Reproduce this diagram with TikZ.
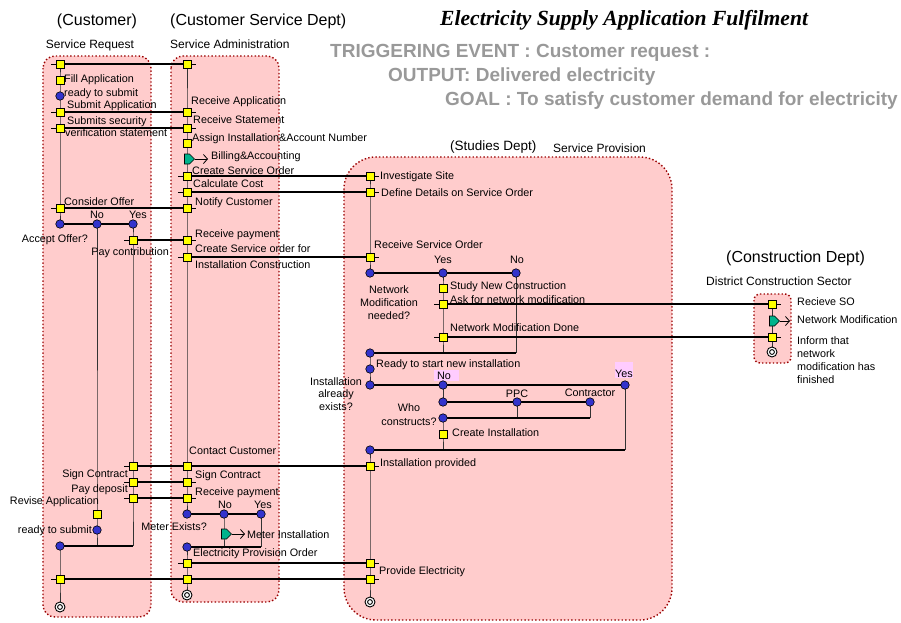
\documentclass[tikz,border=0pt]{standalone}
\usepackage{fontspec}
\setmainfont{Liberation Sans}
\newfontfamily\titlefamily{Liberation Serif}
\usetikzlibrary{shapes.symbols,arrows.meta}
\definecolor{lanepink}{HTML}{FFCCCC}
\definecolor{lanered}{HTML}{990000}
\definecolor{actyellow}{HTML}{FFFF00}
\definecolor{decblue}{HTML}{3333CC}
\definecolor{sendgreen}{HTML}{00B38C}
\definecolor{hlpink}{HTML}{FFCCFF}
\definecolor{graytxt}{HTML}{999999}
\definecolor{flowgray}{HTML}{333333}
\newcommand\lblfont{\fontsize{10.8}{13}\selectfont}
\newcommand\hdrfont{\fontsize{12}{14}\selectfont}
\newcommand\deptfont{\fontsize{16}{19}\selectfont}
\newcommand\sdeptfont{\fontsize{13.5}{16}\selectfont}
\newcommand\goalfont{\fontsize{19}{22}\selectfont\bfseries}
\newcommand\ttlfont{\titlefamily\fontsize{21.6}{25}\selectfont\bfseries\itshape}
\pgfdeclarelayer{lanes}
\pgfdeclarelayer{lines}
\pgfsetlayers{lanes,lines,main}
\tikzset{
 lane/.style={fill=lanepink, draw=lanered, line width=1.4pt, dash pattern=on 1.4pt off 2.2pt},
 act/.style={rectangle, draw=black, fill=actyellow, minimum size=8pt, inner sep=0pt, line width=0.6pt},
 dec/.style={circle, draw=black, fill=decblue, minimum size=8.5pt, inner sep=0pt, line width=0.6pt},
 endnode/.style={circle, draw=black, fill=white, minimum size=10pt, inner sep=0pt, line width=0.9pt,
   path picture={\draw[line width=0.9pt] (path picture bounding box.center) circle (2.4pt);}},
 sendnode/.style={signal, signal to=east, draw=black, fill=sendgreen, minimum width=10pt, minimum height=10pt, inner sep=0pt, line width=0.6pt},
 msg/.style={draw=black, line width=1.3pt},
 flow/.style={draw=flowgray, line width=0.9pt},
 tickline/.style={draw=black, line width=0.8pt},
 sendarrow/.style={draw=black, line width=0.8pt, -{Straight Barb[length=4pt,width=9pt]}},
 lbl/.style={font=\lblfont, inner sep=0pt, text=black},
 hdr/.style={font=\hdrfont, inner sep=0pt},
 dept/.style={font=\deptfont, inner sep=0pt},
 goal/.style={font=\goalfont, inner sep=0pt, text=graytxt},
}
\newcommand\tickon[1]{\draw[tickline] ([xshift=-4.5pt]#1.west) -- ([xshift=4.5pt]#1.east);}
\begin{document}
\begin{tikzpicture}[x=1pt,y=-1pt]
\useasboundingbox (0,0) rectangle (901,622);
% ---------- lanes ----------
\begin{pgfonlayer}{lanes}
\draw[lane, rounded corners=12pt] (43,56) rectangle (151,617);
\draw[lane, rounded corners=12pt] (171,56) rectangle (279,602);
\draw[lane, rounded corners=32pt] (344,157) rectangle (672,620);
\draw[lane, rounded corners=6pt] (754,294) rectangle (791,363);
\fill[hlpink] (434,370) rectangle (459,381);
\fill[hlpink] (615,362) rectangle (633,378);
\end{pgfonlayer}
% ---------- titles ----------
\node[dept] (h1) at (97,21) {(Customer)};
\node[hdr] (h2) at (90,45) {Service Request};
\node[dept, anchor=west] (h3) at (170,21) {(Customer Service Dept)};
\node[hdr, anchor=west] (h4) at (170,44) {Service Administration};
\node[font=\sdeptfont, inner sep=0pt, anchor=west] (h5) at (450,147) {(Studies Dept)};
\node[hdr, anchor=west] (h6) at (553,148) {Service Provision};
\node[dept, anchor=west] (h7) at (726,258) {(Construction Dept)};
\node[hdr, anchor=west] (h8) at (706,281) {District Construction Sector};
\node[font=\ttlfont, inner sep=0pt, anchor=west] (ttl) at (440,20) {Electricity Supply Application Fulfilment};
\node[goal, anchor=west] (g1) at (330,53) {TRIGGERING EVENT : Customer request :};
\node[goal, anchor=west] (g2) at (388,77) {OUTPUT: Delivered electricity};
\node[goal, anchor=west] (g3) at (445,101) {GOAL : To satisfy customer demand for electricity};
% ---------- lane 1 nodes ----------
\node[act] (a1) at (60,64) {};
\node[act] (a2) at (60,80) {};
\node[dec] (c1) at (60,96) {};
\node[act] (a3) at (60,112) {};
\node[act] (a4) at (60,128) {};
\node[act] (a5) at (60,208) {};
\node[dec] (d1) at (60,224) {};
\node[dec] (d1n) at (97,224) {};
\node[dec] (d1y) at (133,224) {};
\node[act] (a6) at (133,240) {};
\node[act] (a7) at (133,466) {};
\node[act] (a8) at (133,482) {};
\node[act] (a9) at (133,498) {};
\node[act] (a10) at (97,514) {};
\node[dec] (c2) at (97,530) {};
\node[dec] (j1) at (60,546) {};
\coordinate (j1n) at (97,546);
\coordinate (j1y) at (133,546);
\node[act] (a11) at (60,579) {};
\node[endnode] (e1) at (60,607) {};
% ---------- lane 2 nodes ----------
\node[act] (b1) at (187,64) {};
\node[act] (b2) at (187,112) {};
\node[act] (b3) at (187,128) {};
\node[act] (b4) at (187,143) {};
\node[sendnode] (p1) at (187,159) {};
\coordinate (p1e) at (208,159);
\node[act] (b5) at (187,176) {};
\node[act] (b6) at (187,192) {};
\node[act] (b7) at (187,208) {};
\node[act] (b8) at (187,240) {};
\node[act] (b9) at (187,257) {};
\node[act] (b10) at (187,466) {};
\node[act] (b11) at (187,482) {};
\node[act] (b12) at (187,498) {};
\node[dec] (m1) at (187,514) {};
\node[dec] (m1n) at (224,514) {};
\node[dec] (m1y) at (261,514) {};
\node[sendnode] (p2) at (224,534) {};
\coordinate (p2e) at (245,534);
\node[dec] (m2) at (187,547) {};
\coordinate (m2n) at (224,547);
\coordinate (m2y) at (261,547);
\node[act] (b13) at (187,563) {};
\node[act] (b14) at (187,579) {};
\node[endnode] (e2) at (187,595) {};
% ---------- lane 3 nodes ----------
\node[act] (s1) at (370,176) {};
\node[act] (s2) at (370,192) {};
\node[act] (s3) at (370,257) {};
\node[dec] (n1) at (370,273) {};
\node[dec] (n1y) at (443,273) {};
\node[dec] (n1n) at (516,273) {};
\node[act] (s4) at (443,288) {};
\node[act] (s5) at (443,304) {};
\node[act] (s6) at (443,337) {};
\node[dec] (n2) at (370,353) {};
\coordinate (n2y) at (443,353);
\coordinate (n2n) at (516,353);
\node[dec] (n3) at (370,369) {};
\node[dec] (i1) at (370,385) {};
\node[dec] (i1n) at (443,385) {};
\node[dec] (i1y) at (625,385) {};
\node[dec] (w1) at (443,402) {};
\node[dec] (w1p) at (517,402) {};
\node[dec] (w1c) at (590,402) {};
\node[dec] (w2) at (443,418) {};
\coordinate (w2p) at (517,418);
\coordinate (w2c) at (590,418);
\node[act] (s7) at (443,434) {};
\node[dec] (i2) at (370,450) {};
\coordinate (i2n) at (443,450);
\coordinate (i2y) at (625,450);
\node[act] (s8) at (370,466) {};
\node[act] (s9) at (370,563) {};
\node[act] (s10) at (370,579) {};
\node[endnode] (e3) at (370,602) {};
% ---------- lane 4 nodes ----------
\node[act] (k1) at (772,304) {};
\node[sendnode] (p3) at (772,321) {};
\coordinate (p3e) at (790,321);
\node[act] (k2) at (772,337) {};
\node[endnode] (e4) at (772,352) {};
% ---------- lines ----------
\begin{pgfonlayer}{lines}
% flows
\draw[flow] (a1.center) -- (a2.center) -- (c1.center) -- (a3.center) -- (a4.center) -- (a5.center) -- (d1.center);
\draw[flow] (d1n.center) -- (a10.center) -- (c2.center) -- (j1n);
\draw[flow] (d1y.center) -- (a6.center) -- (a7.center) -- (a8.center) -- (a9.center) -- (j1y);
\draw[flow] (j1.center) -- (a11.center) -- (e1.center);
\draw[flow] (b1.center) -- (b2.center) -- (b3.center) -- (b4.center) -- (p1.center) -- (b5.center) -- (b6.center) -- (b7.center) -- (b8.center) -- (b9.center) -- (b10.center) -- (b11.center) -- (b12.center) -- (m1.center);
\draw[flow] (m1n.center) -- (p2.center) -- (m2n);
\draw[flow] (m1y.center) -- (m2y);
\draw[flow] (m2.center) -- (b13.center) -- (b14.center) -- (e2.center);
\draw[flow] (s1.center) -- (s2.center) -- (s3.center) -- (n1.center);
\draw[flow] (n1y.center) -- (s4.center) -- (s5.center) -- (s6.center) -- (n2y);
\draw[flow] (n1n.center) -- (n2n);
\draw[flow] (n2.center) -- (n3.center) -- (i1.center);
\draw[flow] (i1n.center) -- (w1.center);
\draw[flow] (w1p.center) -- (w2p);
\draw[flow] (w1c.center) -- (w2c);
\draw[flow] (w2.center) -- (s7.center) -- (i2n);
\draw[flow] (i1y.center) -- (i2y);
\draw[flow] (i2.center) -- (s8.center) -- (s9.center) -- (s10.center) -- (e3.center);
\draw[flow] (k1.center) -- (p3.center) -- (k2.center) -- (e4.center);
% branches and joins
\draw[msg] (d1.center) -- (d1n.center) -- (d1y.center);
\draw[msg] (j1.center) -- (j1y);
\draw[msg] (m1.center) -- (m1n.center) -- (m1y.center);
\draw[msg] (m2.center) -- (m2y);
\draw[msg] (n1.center) -- (n1y.center) -- (n1n.center);
\draw[msg] (n2.center) -- (n2n);
\draw[msg] (i1.center) -- (i1n.center) -- (i1y.center);
\draw[msg] (w1.center) -- (w1p.center) -- (w1c.center);
\draw[msg] (w2.center) -- (w2c);
\draw[msg] (i2.center) -- (i2y);
% messages
\draw[msg] (a1.center) -- (b1.center);
\draw[msg] (a3.center) -- (b2.center);
\draw[msg] (a4.center) -- (b3.center);
\draw[msg] (b5.center) -- (s1.center);
\draw[msg] (b6.center) -- (s2.center);
\draw[msg] (a5.center) -- (b7.center);
\draw[msg] (a6.center) -- (b8.center);
\draw[msg] (b9.center) -- (s3.center);
\draw[msg] (s5.center) -- (k1.center);
\draw[msg] (s6.center) -- (k2.center);
\draw[msg] (a7.center) -- (b10.center) -- (s8.center);
\draw[msg] (a8.center) -- (b11.center);
\draw[msg] (a9.center) -- (b12.center);
\draw[msg] (b13.center) -- (s9.center);
\draw[msg] (a11.center) -- (b14.center) -- (s10.center);
% ticks
\tickon{a1}\tickon{a3}\tickon{a4}\tickon{a5}\tickon{a6}\tickon{a7}\tickon{a8}\tickon{a9}\tickon{a11}
\tickon{b1}\tickon{b2}\tickon{b3}\tickon{b5}\tickon{b6}\tickon{b7}\tickon{b8}\tickon{b9}
\tickon{b10}\tickon{b11}\tickon{b12}\tickon{b13}\tickon{b14}
\tickon{s1}\tickon{s2}\tickon{s3}\tickon{s5}\tickon{s6}\tickon{s8}\tickon{s9}\tickon{s10}
\tickon{k1}\tickon{k2}
\end{pgfonlayer}
% send arrows
\draw[sendarrow] (p1.east) -- (p1e);
\draw[sendarrow] (p2.east) -- (p2e);
\draw[sendarrow] (p3.east) -- (p3e);
% ---------- lane 1 labels ----------
\node[lbl, anchor=west] (l1) at (64,80) {Fill Application};
\node[lbl, anchor=west] (l2) at (64,94) {ready to submit};
\node[lbl, anchor=west] (l3) at (67,106) {Submit Application};
\node[lbl, anchor=west] (l4) at (67,122) {Submits security};
\node[lbl, anchor=west] (l5) at (65,133) {verification statement};
\node[lbl, anchor=west] (l6) at (64,202) {Consider Offer};
\node[lbl] (l7) at (97,215) {No};
\node[lbl] (l8) at (138,215) {Yes};
\node[lbl, anchor=east] (l9) at (88,240) {Accept Offer?};
\node[lbl, anchor=east] (l10) at (169,253) {Pay contribution};
\node[lbl, anchor=east] (l11) at (128,475) {Sign Contract};
\node[lbl, anchor=east] (l12) at (128,490) {Pay deposit};
\node[lbl, anchor=east] (l13) at (99,502) {Revise Application};
\node[lbl, anchor=east] (l14) at (92,531) {ready to submit};
% ---------- lane 2 labels ----------
\node[lbl, anchor=west] (m01) at (191,102) {Receive Application};
\node[lbl, anchor=west] (m02) at (193,120) {Receive Statement};
\node[lbl, anchor=west] (m03) at (192,139) {Assign Installation\&Account Number};
\node[lbl, anchor=west] (m04) at (211,157) {Billing\&Accounting};
\node[lbl, anchor=west] (m05) at (192,171) {Create Service Order};
\node[lbl, anchor=west] (m06) at (193,184) {Calculate Cost};
\node[lbl, anchor=west] (m07) at (195,203) {Notify Customer};
\node[lbl, anchor=west] (m08) at (195,235) {Receive payment};
\node[lbl, anchor=west] (m09) at (195,249) {Create Service order for};
\node[lbl, anchor=west] (m10) at (195,265) {Installation Construction};
\node[lbl, anchor=west] (m11) at (189,451) {Contact Customer};
\node[lbl, anchor=west] (m12) at (195,476) {Sign Contract};
\node[lbl, anchor=west] (m13) at (195,493) {Receive payment};
\node[lbl] (m14) at (225,505) {No};
\node[lbl] (m15) at (263,505) {Yes};
\node[lbl, anchor=east] (m16) at (207,527) {Meter Exists?};
\node[lbl, anchor=west] (m17) at (247,535) {Meter Installation};
\node[lbl, anchor=west] (m18) at (193,554) {Electricity Provision Order};
% ---------- lane 3 labels ----------
\node[lbl, anchor=west] (q01) at (380,177) {Investigate Site};
\node[lbl, anchor=west] (q02) at (381,193) {Define Details on Service Order};
\node[lbl, anchor=west] (q03) at (374,245) {Receive Service Order};
\node[lbl] (q04) at (443,260) {Yes};
\node[lbl] (q05) at (517,260) {No};
\node[lbl, align=center] (q06) at (389,303) {Network\\Modification\\needed?};
\node[lbl, anchor=west] (q07) at (450,287) {Study New Construction};
\node[lbl, anchor=west] (q08) at (450,300) {Ask for network modification};
\node[lbl, anchor=west] (q09) at (450,328) {Network Modification Done};
\node[lbl, anchor=west] (q10) at (376,365) {Ready to start new installation};
\node[lbl] (q11) at (444,376) {No};
\node[lbl] (q12) at (624,374) {Yes};
\node[lbl, align=center, font=\fontsize{10.8}{12.5}\selectfont] (q13) at (336,394) {Installation\\already\\exists?};
\node[lbl] (q14) at (517,394) {PPC};
\node[lbl] (q15) at (590,393) {Contractor};
\node[lbl, align=center, font=\fontsize{10.8}{14}\selectfont] (q16) at (409,415) {Who\\constructs?};
\node[lbl, anchor=west] (q17) at (452,433) {Create Installation};
\node[lbl, anchor=west] (q18) at (380,464) {Installation provided};
\node[lbl, anchor=west] (q19) at (379,572) {Provide Electricity};
% ---------- lane 4 labels ----------
\node[lbl, anchor=west] (r1) at (797,302) {Recieve SO};
\node[lbl, anchor=west] (r2) at (797,320) {Network Modification};
\node[lbl, anchor=north west, align=left] (r3) at (797,336) {Inform that\\network\\modification has\\finished};
\end{tikzpicture}
\end{document}
